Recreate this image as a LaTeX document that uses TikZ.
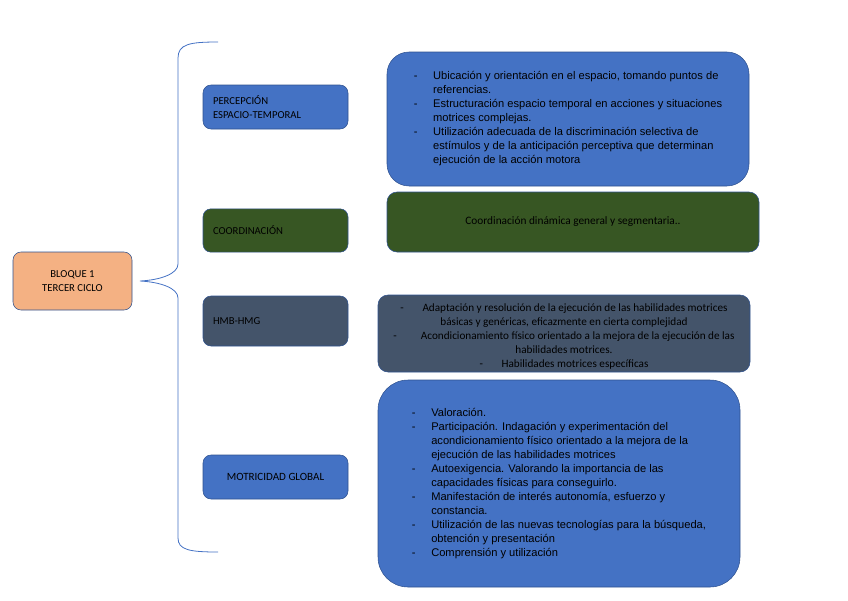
\documentclass[tikz,border=0pt]{standalone}
\usepackage{fontspec}
\setmainfont{Liberation Sans}
\newfontfamily\calibri{Carlito}
\usetikzlibrary{positioning}
\definecolor{boxblue}{HTML}{4472C4}
\definecolor{boxedge}{HTML}{2F528F}
\definecolor{boxgreen}{HTML}{375623}
\definecolor{boxslate}{HTML}{44546A}
\definecolor{boxorange}{HTML}{F4B183}
\newcommand\dashitems[1]{\begin{tabular}{@{}p{14.5pt}@{}l@{}}#1\end{tabular}}

\begin{document}
\begin{tikzpicture}[x=0.75pt, y=-0.75pt,
  topic/.style={rectangle, rounded corners=6pt, draw=boxedge, inner sep=0pt,
    minimum width=108.75pt, minimum height=33pt,
    font=\calibri\fontsize{8}{10.5}\selectfont},
  detail/.style={rectangle, draw=boxedge, inner sep=0pt,
    font=\fontsize{8.35}{10.5}\selectfont},
  brace/.style={draw=boxblue, semithick}
]
  \useasboundingbox (0,0) rectangle (848,600);

  \node[topic, fill=boxorange, minimum width=89.25pt, minimum height=43.5pt,
    align=center] (bloque) at (72.5,281) {BLOQUE 1\\TERCER CICLO};

  \node[topic, fill=boxblue, text width=93.75pt, align=left] (percep) at (275.5,107)
    {PERCEPCIÓN\\ESPACIO-TEMPORAL};
  \node[topic, fill=boxgreen, text width=93.75pt, align=left, minimum height=32.5pt] (coord) at (275.5,230.5)
    {COORDINACIÓN};
  \node[topic, fill=boxslate, text width=93.75pt, align=left, minimum height=37.5pt] (hmb) at (275.5,321)
    {HMB-HMG};
  \node[topic, fill=boxblue, align=center, font=\calibri\fontsize{8.3}{10.5}\selectfont] (motric) at (275.5,477)
    {MOTRICIDAD GLOBAL};

  \draw[brace] (218,42) .. controls (190,42) and (178,44) .. (178,58) -- (178,264)
    .. controls (178,274) and (160,280) .. (140,281)
    .. controls (160,282) and (178,288) .. (178,298) -- (178,538)
    .. controls (178,550) and (190,552) .. (218,552);

  \node[detail, fill=boxblue, rounded corners=16.5pt, minimum width=271.5pt,
    minimum height=100.5pt] (dpercep) at (568,119) {\dashitems{%
    - & Ubicación y orientación en el espacio, tomando puntos de\\
      & referencias.\\
    - & Estructuración espacio temporal en acciones y situaciones\\
      & motrices complejas.\\
    - & Utilización adecuada de la discriminación selectiva de\\
      & estímulos y de la anticipación perceptiva que determinan\\
      & ejecución de la acción motora}};

  \node[detail, fill=boxgreen, rounded corners=7.5pt, minimum width=279pt,
    minimum height=45pt, font=\calibri\fontsize{8.5}{10.5}\selectfont] (dcoord) at (573,222)
    {Coordinación dinámica general y segmentaria..};

  \node[detail, fill=boxslate, rounded corners=7.5pt, minimum width=279pt,
    minimum height=57.75pt, align=center,
    font=\calibri\fontsize{8.4}{10.5}\selectfont] (dhmb) at (564,333.5)
    {\begin{tabular}{@{}c@{}}
     \rule{0pt}{11.4pt}-\hspace{14pt}Adaptación y resolución de la ejecución de las habilidades motrices\\
     básicas y genéricas, eficazmente en cierta complejidad\\
     -\hspace{18pt}Acondicionamiento físico orientado a la mejora de la ejecución de las\\
     habilidades motrices.\\
     -\hspace{14pt}Habilidades motrices específicas\end{tabular}};

  \node[detail, fill=boxblue, rounded corners=22.5pt, minimum width=271.5pt,
    minimum height=155.25pt] (dmotric) at (559,483.5) {\dashitems{%
    - & Valoración.\\
    - & Participación. Indagación y experimentación del\\
      & acondicionamiento físico orientado a la mejora de la\\
      & ejecución de las habilidades motrices\\
    - & Autoexigencia. Valorando la importancia de las\\
      & capacidades físicas para conseguirlo.\\
    - & Manifestación de interés autonomía, esfuerzo y\\
      & constancia.\\
    - & Utilización de las nuevas tecnologías para la búsqueda,\\
      & obtención y presentación\\
    - & Comprensión y utilización}};
\end{tikzpicture}
\end{document}
